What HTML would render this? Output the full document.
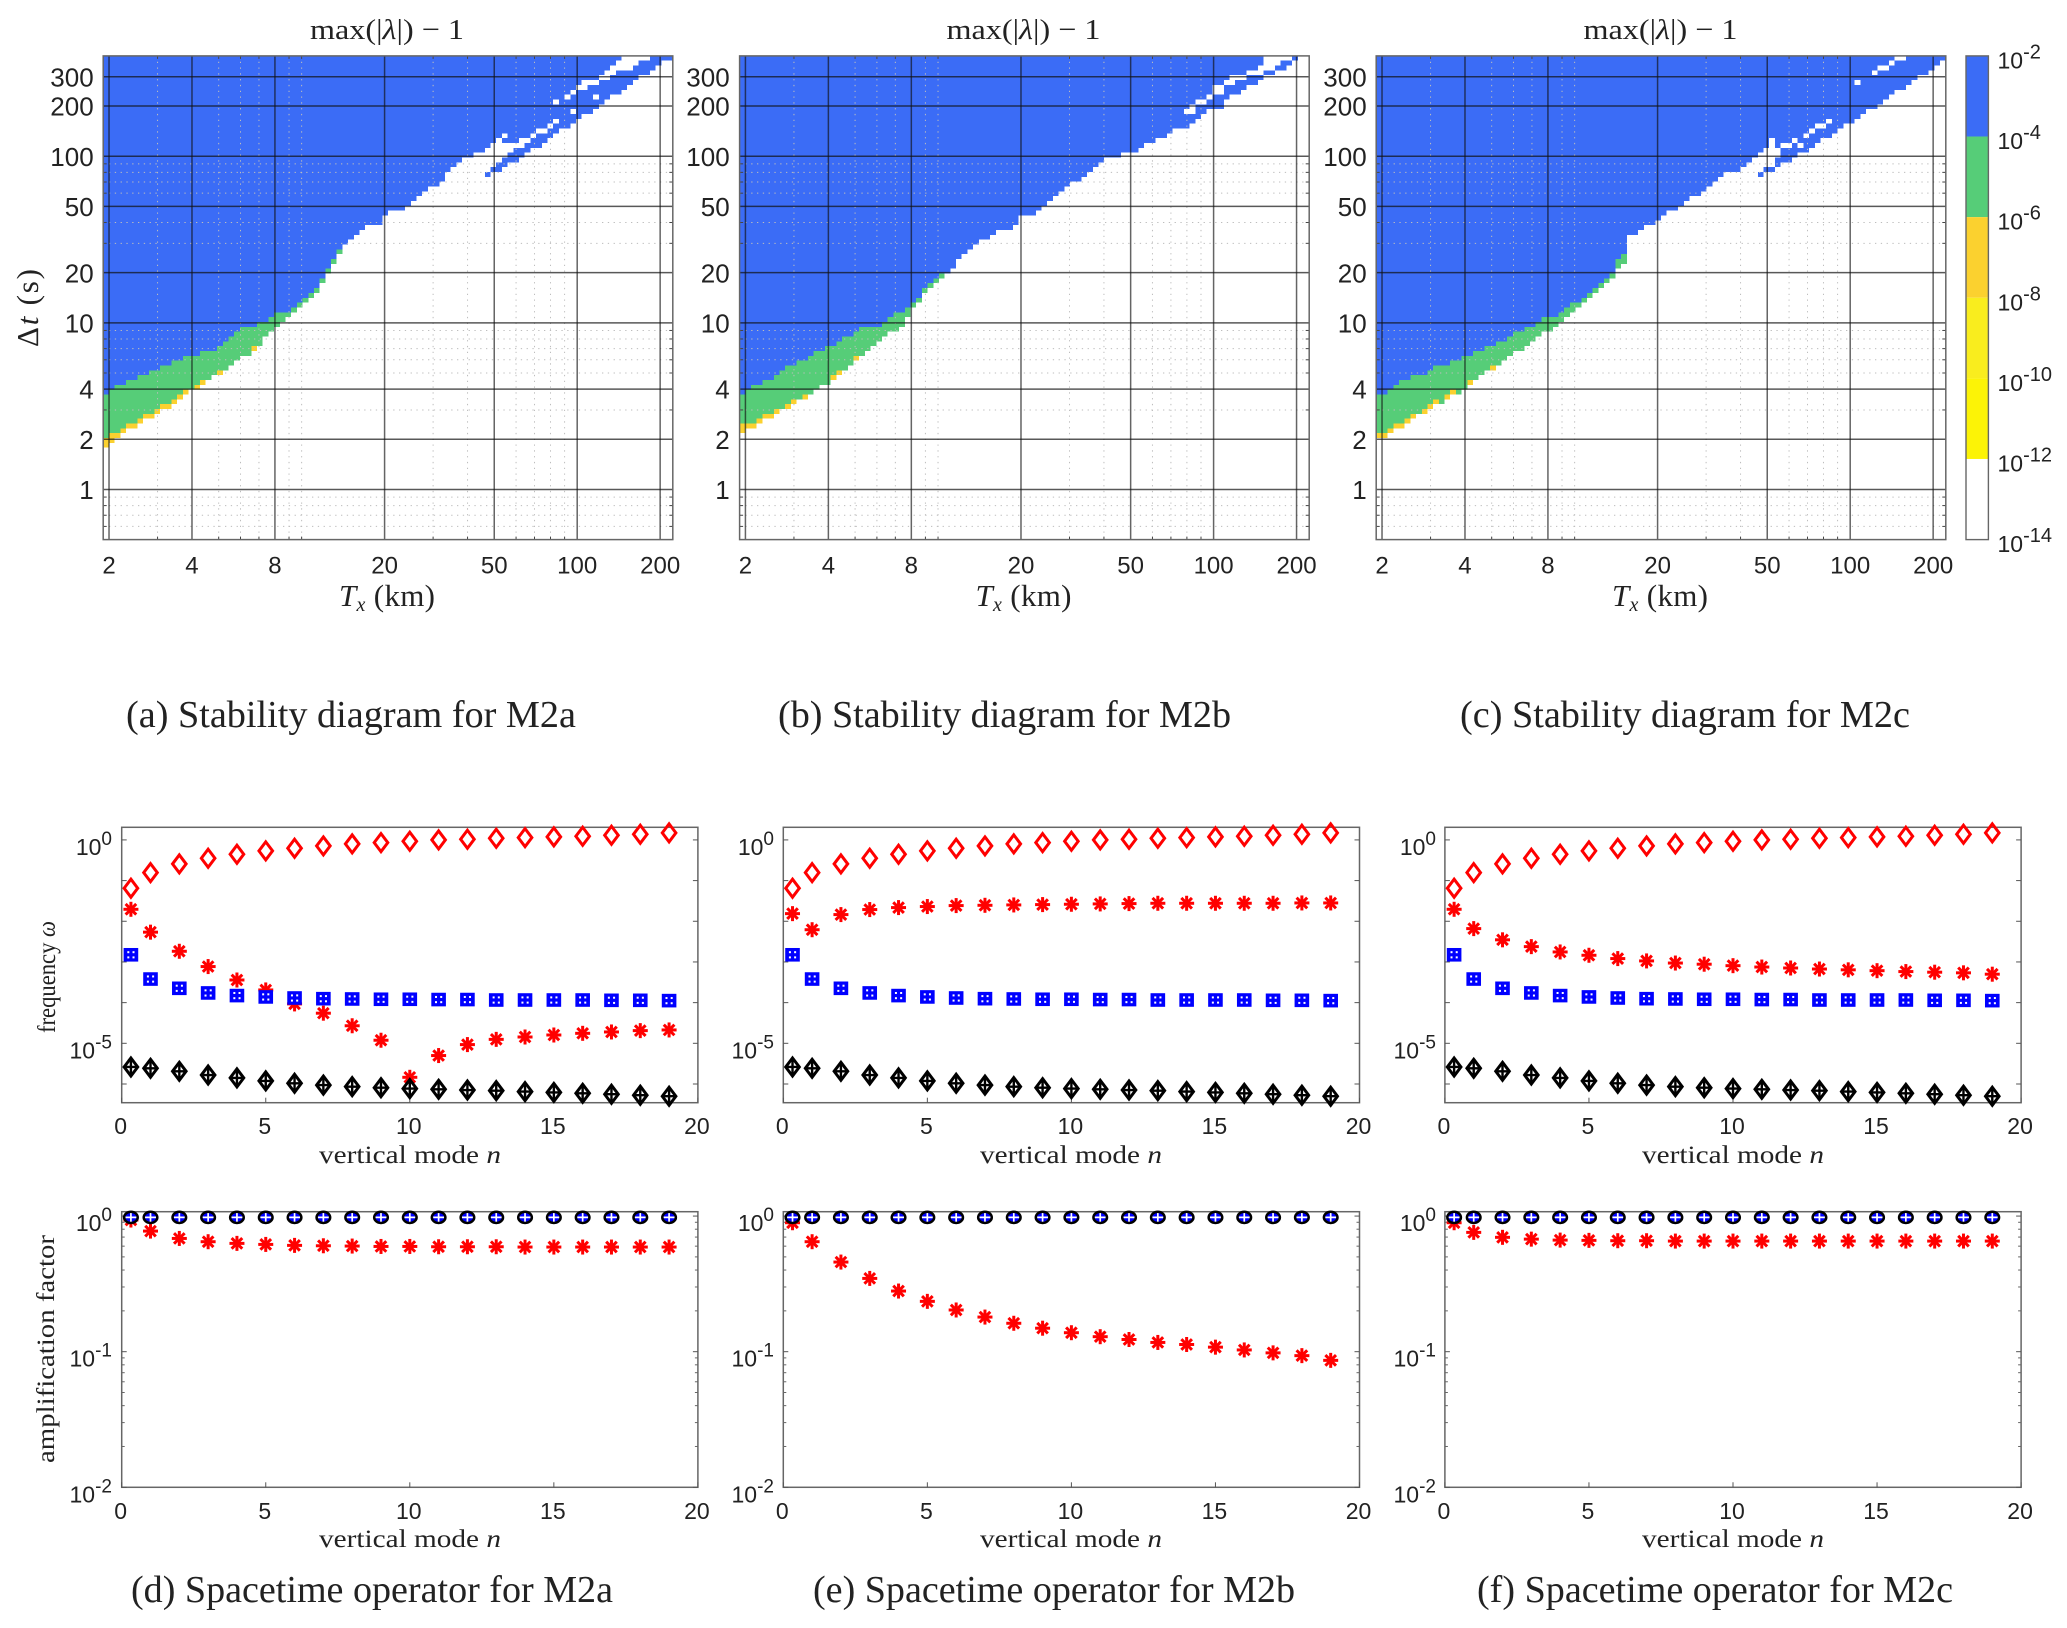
<!DOCTYPE html>
<html lang="en">
<head>
<meta charset="utf-8">
<title>Stability diagrams and spacetime operators</title>
<style>
html,body{margin:0;padding:0;background:#fff;width:2067px;height:1628px;overflow:hidden}
svg{display:block}
.sans{font-family:"Liberation Sans",sans-serif;fill:#222}
.serif{font-family:"Liberation Serif",serif;fill:#222}
</style>
</head>
<body>
<svg id="figure" xmlns="http://www.w3.org/2000/svg" width="2067" height="1628" viewBox="0 0 2067 1628">
  <rect x="0" y="0" width="2067" height="1628" fill="#fff"/>
  <g id="layer-stability"></g>
  <g id="layer-modes"></g>

  <text class="serif" x="387" y="39" font-size="29" text-anchor="middle" textLength="154" lengthAdjust="spacingAndGlyphs">max(|<tspan font-style="italic">λ</tspan>|) − 1</text>
  <text class="serif" x="1023.5" y="39" font-size="29" text-anchor="middle" textLength="154" lengthAdjust="spacingAndGlyphs">max(|<tspan font-style="italic">λ</tspan>|) − 1</text>
  <text class="serif" x="1660.5" y="39" font-size="29" text-anchor="middle" textLength="154" lengthAdjust="spacingAndGlyphs">max(|<tspan font-style="italic">λ</tspan>|) − 1</text>

  <text class="serif" x="387" y="606" font-size="31" text-anchor="middle" textLength="96" lengthAdjust="spacing"><tspan font-style="italic">T</tspan><tspan font-style="italic" font-size="20" dy="5">x</tspan><tspan dy="-5"> (km)</tspan></text>
  <text class="serif" x="1023.5" y="606" font-size="31" text-anchor="middle" textLength="96" lengthAdjust="spacing"><tspan font-style="italic">T</tspan><tspan font-style="italic" font-size="20" dy="5">x</tspan><tspan dy="-5"> (km)</tspan></text>
  <text class="serif" x="1660" y="606" font-size="31" text-anchor="middle" textLength="96" lengthAdjust="spacing"><tspan font-style="italic">T</tspan><tspan font-style="italic" font-size="20" dy="5">x</tspan><tspan dy="-5"> (km)</tspan></text>
  <text class="serif" transform="translate(38,308) rotate(-90)" font-size="31" text-anchor="middle" textLength="78" lengthAdjust="spacing">Δ<tspan font-style="italic">t</tspan> (s)</text>

  <text class="serif" x="126" y="727" font-size="38" textLength="450" lengthAdjust="spacingAndGlyphs">(a) Stability diagram for M2a</text>
  <text class="serif" x="778" y="727" font-size="38" textLength="453" lengthAdjust="spacingAndGlyphs">(b) Stability diagram for M2b</text>
  <text class="serif" x="1460" y="727" font-size="38" textLength="450" lengthAdjust="spacingAndGlyphs">(c) Stability diagram for M2c</text>
  <text class="serif" x="131" y="1602" font-size="38" textLength="482" lengthAdjust="spacingAndGlyphs">(d) Spacetime operator for M2a</text>
  <text class="serif" x="813" y="1602" font-size="38" textLength="482" lengthAdjust="spacingAndGlyphs">(e) Spacetime operator for M2b</text>
  <text class="serif" x="1477" y="1602" font-size="38" textLength="476" lengthAdjust="spacingAndGlyphs">(f) Spacetime operator for M2c</text>

  <text class="serif" transform="translate(55,977) rotate(-90)" font-size="25" text-anchor="middle" textLength="112" lengthAdjust="spacingAndGlyphs">frequency <tspan font-style="italic">ω</tspan></text>
  <text class="serif" transform="translate(54,1349) rotate(-90)" font-size="25" text-anchor="middle" textLength="228" lengthAdjust="spacingAndGlyphs">amplification factor</text>
</svg>

<script>
/* ---------- stability diagram data (grid row index, counted from top, per column) ---------- */
const xTicksTx = [2, 4, 8, 20, 50, 100, 200];
const xMinorTx = [3, 5, 6, 7, 9, 10, 30, 40, 60, 70, 80, 90];
const yTicksDt = [1, 2, 4, 10, 20, 50, 100, 200, 300];
const yMinorDt = [0.6, 0.7, 0.8, 0.9, 3, 5, 6, 7, 8, 9, 30, 40, 60, 70, 80, 90];

const blueEndA = [70,69,68,68,67,67,66,66,65,65,64,64,63,63,62,62,62,61,61,61,60,59,58,57,56,56,56,55,55,54,53,53,53,52,51,50,49,48,46,44,42,40];
const greenEndA = [79,78,78,77,76,76,75,74,74,73,72,72,71,70,69,69,68,67,67,66,65,65,64,63,62,62,60,60,58];
const colourEndA = [81,80,79,78,77,77,76,75,75,74,73,73,72,71,70,69,69,68,67,66,66,65,64,63,62,62,61,60,58,57,56,55,54,53,52,51,50,49,47,45,43,41,39,38,37,36,35,35,35,33,32,32,32,31,30,29,28,27,27,26,24,23,22,21,21,20,20,25,24,24,23,22,22,21,20,19,19,18,17,16,15,15,14,13,12,12,11,10,9,8,8,7,6,5,4,4,3,2,1,1];
const gapsA = [[67,19,24],[68,18,23],[69,17,22],[70,18,21],[70,16,17],[71,18,20],[72,18,19],[73,17,19],[74,17,18],[75,16,17],[76,15,16],[77,15,16],[78,14,15],[79,13,14],[79,9,10],[81,8,9],[82,7,8],[82,11,12],[83,6,7],[84,5,7],[85,5,6],[86,5,6],[86,8,9],[87,4,5],[88,3,5],[89,2,4],[90,1,3],[91,0,3],[92,0,3],[93,0,2],[94,0,1],[95,0,1]];

const blueEndB = [70,69,68,68,67,67,66,65,64,64,63,63,62,61,61,60,60,59,58,58,57,56,56,56,56,55,54,53,53,52,51,50,48,47,46,45];
const greenEndB = [76,76,76,75,74,74,73,73,72,71,71,70,70,69,68,68,66,65,65,64,62];
const colourEndB = [78,77,77,76,75,75,74,73,73,72,71,71,70,69,68,68,67,66,65,64,63,62,61,60,59,58,57,57,56,54,52,51,49,48,47,46,45,44,42,41,40,39,38,38,37,36,36,36,35,33,33,33,32,31,30,29,28,27,26,26,25,24,23,22,21,21,21,20,20,20,19,18,18,17,17,16,15,15,15,14,13,12,11,11,11,9,8,8,7,6,6,5,4,4,3,3,2,1,0,0];
const gapsB = [[78,11,12],[79,10,12],[80,9,10],[81,9,10],[82,8,9],[83,6,8],[84,6,8],[85,5,6],[86,4,6],[87,4,5],[88,4,5],[89,3,4],[90,3,4],[91,2,4],[92,0,3],[93,0,3],[94,0,2],[95,0,1],[96,0,1]];

const blueEndC = [70,70,69,68,67,67,66,66,66,65,64,64,64,63,63,62,62,61,61,60,60,59,59,58,57,57,56,56,55,54,54,54,53,52,51,51,50,49,48,47,46,45,42,41];
const greenEndC = [78,78,77,76,76,75,74,74,73,72,71,72,70,69,70,69,67,67,66,65,64];
const colourEndC = [79,79,78,77,77,76,75,74,74,73,72,72,71,70,70,69,68,67,66,65,65,64,63,62,61,61,60,59,58,57,57,56,55,54,53,52,51,50,49,48,47,46,44,43,37,37,36,35,35,34,33,32,32,31,30,29,29,28,27,26,25,24,24,24,23,22,21,25,24,24,23,22,22,21,20,20,19,18,17,17,16,15,14,14,13,12,11,11,10,9,8,7,7,6,5,4,4,3,2,1];
const gapsC = [[67,20,24],[68,19,23],[69,17,23],[70,19,21],[71,18,19],[72,18,19],[73,17,18],[74,18,19],[75,16,17],[76,15,16],[77,14,15],[78,14,15],[79,13,14],[84,5,6],[87,3,4],[88,2,3],[89,2,3],[90,1,2],[91,0,1],[92,0,1]];

const colourbarExponents = [-2, -4, -6, -8, -10, -12, -14];
const colourbarColours = ["#3b6cf6", "#56cd78", "#fbd12f", "#f9ed1e", "#fcf306", "#ffffff"];

/* ---------- mode plot data ---------- */
const modeValues = [0.32,1,2,3,4,5,6,7,8,9,10,11,12,13,14,15,16,17,18,19];
const modeTicks = [0, 5, 10, 15, 20];
const freqTickExponents = [0, -1, -2, -3, -4, -5, -6];
const freqLabelExponents = [0, -5];
const ampLabelExponents = [0, -1, -2];
const ampMinorTicks = [0.9,0.8,0.7,0.6,0.5,0.4,0.3,0.2,0.09,0.08,0.07,0.06,0.05,0.04,0.03,0.02];

const freqRedDiamond = [0.065,0.157,0.257,0.354,0.444,0.537,0.624,0.711,0.797,0.859,0.927,1.0,1.04,1.10,1.14,1.19,1.23,1.30,1.38,1.49];
const freqBlueSquare = [1.5e-3,3.8e-4,2.25e-4,1.73e-4,1.49e-4,1.38e-4,1.30e-4,1.25e-4,1.23e-4,1.21e-4,1.21e-4,1.19e-4,1.19e-4,1.16e-4,1.16e-4,1.16e-4,1.16e-4,1.14e-4,1.14e-4,1.12e-4];
const freqBlackDiamond = [2.62e-6,2.43e-6,2.05e-6,1.66e-6,1.41e-6,1.19e-6,1.04e-6,9.4e-7,8.6e-7,8.1e-7,7.7e-7,7.4e-7,7.1e-7,6.85e-7,6.5e-7,6.2e-7,5.9e-7,5.6e-7,5.3e-7,5.0e-7];
const freqStarA = [1.97e-2,5.4e-3,1.83e-3,7.7e-4,3.6e-4,2.05e-4,9.3e-5,5.5e-5,2.7e-5,1.19e-5,1.46e-6,5.0e-6,9.3e-6,1.25e-5,1.43e-5,1.6e-5,1.76e-5,1.9e-5,2.05e-5,2.13e-5];
const freqStarB = [1.54e-2,6.2e-3,1.46e-2,1.94e-2,2.17e-2,2.3e-2,2.43e-2,2.47e-2,2.52e-2,2.57e-2,2.62e-2,2.67e-2,2.72e-2,2.77e-2,2.77e-2,2.77e-2,2.77e-2,2.77e-2,2.82e-2,2.82e-2];
const freqStarC = [1.97e-2,6.6e-3,3.5e-3,2.38e-3,1.76e-3,1.46e-3,1.21e-3,1.06e-3,9.4e-4,8.8e-4,8.1e-4,7.5e-4,7.1e-4,6.7e-4,6.4e-4,6.1e-4,5.8e-4,5.6e-4,5.4e-4,5.0e-4];

const ampCircle = [0.978,0.978,0.978,0.978,0.978,0.978,0.978,0.978,0.978,0.978,0.978,0.978,0.978,0.978,0.978,0.978,0.978,0.978,0.978,0.978];
const ampStarD = [0.935,0.775,0.684,0.647,0.629,0.618,0.608,0.604,0.601,0.597,0.597,0.594,0.594,0.594,0.591,0.591,0.591,0.591,0.591,0.591];
const ampStarE = [0.893,0.647,0.458,0.347,0.280,0.235,0.203,0.180,0.162,0.149,0.138,0.129,0.123,0.117,0.113,0.108,0.103,0.098,0.0935,0.0863];
const ampStarF = [0.893,0.758,0.697,0.676,0.665,0.662,0.658,0.658,0.654,0.654,0.654,0.654,0.654,0.654,0.654,0.654,0.654,0.654,0.654,0.654];

/* ---------- helpers ---------- */
const NS = "http://www.w3.org/2000/svg";
function mk(parent, tag, attrs) {
  const el = document.createElementNS(NS, tag);
  for (const k in attrs) el.setAttribute(k, attrs[k]);
  parent.appendChild(el);
  return el;
}
function mkLabel(parent, str, x, y, size, anchor) {
  const t = mk(parent, "text", { x: x, y: y, "font-size": size, "text-anchor": anchor, "class": "sans" });
  t.textContent = str;
  
  
  return t;
}
function mkPowerLabel(parent, exponent, x, y, size, expSize, rise, anchor) {
  const t = mk(parent, "text", { x: x, y: y, "font-size": size, "text-anchor": anchor, "class": "sans" });
  
  
  t.appendChild(document.createTextNode("10"));
  const s = mk(t, "tspan", { "font-size": expSize, dy: -rise });
  s.textContent = String(exponent);
  return t;
}

/* ---------- stability panels ---------- */
const stabLayer = document.getElementById("layer-stability");
const stabTop = 55.9, stabHeight = 483.7, stabWidth = 569.6;
const TxMin = 1.905, TxMax = 222.3, DtMax = 400, DtMin = 0.5, gridCount = 100;

function drawStability(left, blueEnd, greenEnd, colourEnd, gaps, tickRight) {
  const g = mk(stabLayer, "g", {});
  
  
  const xScale = function (v) { return left + Math.log(v / TxMin) / Math.log(TxMax / TxMin) * stabWidth; };
  const yScale = function (v) { return stabTop + Math.log(DtMax / v) / Math.log(DtMax / DtMin) * stabHeight; };
  const colEdge = function (c) { return xScale(TxMin * Math.pow(TxMax / TxMin, c / gridCount)); };
  const rowEdge = function (r) { return yScale(DtMax * Math.pow(DtMin / DtMax, r / gridCount)); };
  const cellRun = function (c, r0, r1, fill) {
    return mk(g, "rect", { x: colEdge(c), y: rowEdge(r0), width: colEdge(c + 1) - colEdge(c), height: rowEdge(r1) - rowEdge(r0), fill: fill, "shape-rendering": "crispEdges" });
  };
  colourEnd.forEach(function (end, c) {
    const blue = c < blueEnd.length ? blueEnd[c] : end;
    const green = c < greenEnd.length ? greenEnd[c] : end;
    if (blue > 0) {
      const rBlue = cellRun(c, 0, blue, "#3b6cf6");
      
      
    }
    if (green > blue) {
      const rGreen = cellRun(c, blue, green, "#56cd78");
      
      
    }
    if (end > green) {
      const rOrange = cellRun(c, green, end, "#fbd12f");
      
      
    }
  });
  gaps.forEach(function (gap) {
    const rGap = cellRun(gap[0], gap[1], gap[2], "#ffffff");
    
    
  });
  const bottom = stabTop + stabHeight, right = left + stabWidth;
  xMinorTx.forEach(function (v) {
    const px = xScale(v);
    const l = mk(g, "line", { x1: px, x2: px, y1: stabTop, y2: bottom, stroke: "#bdbdbd", "stroke-width": 1, "stroke-dasharray": "1.3 4.5" });
    
    
    const t1 = mk(g, "line", { x1: px, x2: px, y1: stabTop, y2: stabTop + 3, stroke: "#444", "stroke-width": 1 });
    
    
    const t2 = mk(g, "line", { x1: px, x2: px, y1: bottom - 3, y2: bottom, stroke: "#444", "stroke-width": 1 });
    
    
  });
  yMinorDt.forEach(function (v) {
    const py = yScale(v);
    const l = mk(g, "line", { x1: left, x2: right, y1: py, y2: py, stroke: "#bdbdbd", "stroke-width": 1, "stroke-dasharray": "1.3 4.5" });
    
    
    const t1 = mk(g, "line", { x1: left, x2: left + 3.5, y1: py, y2: py, stroke: "#444", "stroke-width": 1 });
    
    
    const t2 = mk(g, "line", { x1: right - 3.5, x2: right, y1: py, y2: py, stroke: "#444", "stroke-width": 1 });
    
    
  });
  xTicksTx.forEach(function (v) {
    const px = xScale(v);
    const l = mk(g, "line", { x1: px, x2: px, y1: stabTop, y2: bottom, stroke: "#111", "stroke-opacity": 0.65, "stroke-width": 1.5 });
    
    
    mkLabel(g, String(v), px, 573.5, 24, "middle");
  });
  yTicksDt.forEach(function (v) {
    const py = yScale(v);
    const l = mk(g, "line", { x1: left, x2: right, y1: py, y2: py, stroke: "#111", "stroke-opacity": 0.7, "stroke-width": 1.5 });
    
    
    mkLabel(g, String(v), tickRight, py + 9.6, 26, "end");
  });
  const box = mk(g, "rect", { x: left, y: stabTop, width: stabWidth, height: stabHeight, fill: "none", stroke: "#666", "stroke-width": 1.5 });
  
  
}
drawStability(103.2, blueEndA, greenEndA, colourEndA, gapsA, 93.7);
drawStability(739.6, blueEndB, greenEndB, colourEndB, gapsB, 729.7);
drawStability(1376.2, blueEndC, greenEndC, colourEndC, gapsC, 1366.7);

/* ---------- colourbar ---------- */
(function () {
  const left = 1966, width = 22.4;
  const g = mk(stabLayer, "g", {});
  
  
  const hi = colourbarExponents[0], lo = colourbarExponents[colourbarExponents.length - 1];
  const yExp = function (e) { return stabTop + (hi - e) / (hi - lo) * stabHeight; };
  colourbarColours.forEach(function (col, i) {
    const r = mk(g, "rect", { x: left, y: yExp(colourbarExponents[i]), width: width, height: yExp(colourbarExponents[i + 1]) - yExp(colourbarExponents[i]), fill: col });
    
    
  });
  colourbarExponents.forEach(function (e) {
    mkPowerLabel(g, e, 1997.5, yExp(e) + 12.6, 23, 20, 10, "start");
  });
  const b = mk(g, "rect", { x: left, y: stabTop, width: width, height: stabHeight, fill: "none", stroke: "#666", "stroke-width": 1.4 });
  
  
})();

/* ---------- mode panels ---------- */
const modeLayer = document.getElementById("layer-modes");
const modeWidth = 576.2;

function drawStar(parent, x, y) {
  const m = mk(parent, "g", { transform: "translate(" + x + "," + y + ")", stroke: "#ff0000", "stroke-width": 3, "stroke-linecap": "butt" });
  
  
  mk(m, "line", { x1: 0, y1: -7.5, x2: 0, y2: 7.5 });
  mk(m, "line", { x1: -7.5, y1: 0, x2: 7.5, y2: 0 });
  mk(m, "line", { x1: -5.3, y1: -5.3, x2: 5.3, y2: 5.3 });
  mk(m, "line", { x1: -5.3, y1: 5.3, x2: 5.3, y2: -5.3 });
}
function drawRedDiamond(parent, x, y) {
  const m = mk(parent, "path", { d: "M" + x + " " + (y - 9) + "L" + (x + 6.8) + " " + y + "L" + x + " " + (y + 9) + "L" + (x - 6.8) + " " + y + "Z", fill: "none", stroke: "#ff0000", "stroke-width": 3 });
  
  
}
function drawBlueSquare(parent, x, y) {
  const m = mk(parent, "g", { transform: "translate(" + x + "," + y + ")" });
  
  
  mk(m, "rect", { x: -7.3, y: -6.8, width: 14.6, height: 13.6, fill: "#0000ff" });
  [[-2.6, -2.6], [2.6, -2.6], [-2.6, 2.6], [2.6, 2.6]].forEach(function (p) {
    mk(m, "rect", { x: p[0] - 1, y: p[1] - 1, width: 2, height: 2, fill: "#ffffff" });
  });
}
function drawBlackDiamond(parent, x, y) {
  const m = mk(parent, "g", { transform: "translate(" + x + "," + y + ")" });
  
  
  mk(m, "path", { d: "M0 -9L6.8 0L0 9L-6.8 0Z", fill: "#fff", stroke: "#000", "stroke-width": 3 });
  mk(m, "path", { d: "M0 -7V7M-5.5 0H5.5", stroke: "#000", "stroke-width": 2.4, fill: "none" });
}
function drawCirclePlus(parent, x, y) {
  const m = mk(parent, "g", { transform: "translate(" + x + "," + y + ")" });
  
  
  mk(m, "ellipse", { cx: 0, cy: 0, rx: 6.8, ry: 5.6, fill: "#0000ff" });
  mk(m, "path", { d: "M0 -5.5V5.5M-5.5 0H5.5", stroke: "#fff", "stroke-width": 1.7, fill: "none" });
  mk(m, "ellipse", { cx: 0, cy: 0, rx: 6.8, ry: 5.6, fill: "none", stroke: "#000", "stroke-width": 2.5 });
}

function drawFrame(left, top, bottom, yScale, majorTicks, minorTicks, labelExps, labelRight, xLabelY, titleX, titleY) {
  const g = mk(modeLayer, "g", {});
  
  
  const xScale = function (n) { return left + n / 20 * modeWidth; };
  const box = mk(g, "rect", { x: left, y: top, width: modeWidth, height: bottom - top, fill: "none", stroke: "#666", "stroke-width": 1.5 });
  
  
  modeTicks.forEach(function (n) {
    const px = xScale(n);
    const t = mk(g, "line", { x1: px, x2: px, y1: bottom - 5, y2: bottom, stroke: "#555", "stroke-width": 1 });
    
    
    mkLabel(g, String(n), px - 1, xLabelY, 23, "middle");
  });
  majorTicks.forEach(function (v) {
    const py = yScale(v);
    const t1 = mk(g, "line", { x1: left, x2: left + 5, y1: py, y2: py, stroke: "#555", "stroke-width": 1 });
    
    
    const t2 = mk(g, "line", { x1: left + modeWidth - 5, x2: left + modeWidth, y1: py, y2: py, stroke: "#555", "stroke-width": 1 });
    
    
  });
  minorTicks.forEach(function (v) {
    const py = yScale(v);
    const t1 = mk(g, "line", { x1: left, x2: left + 3, y1: py, y2: py, stroke: "#666", "stroke-width": 1 });
    
    
    const t2 = mk(g, "line", { x1: left + modeWidth - 3, x2: left + modeWidth, y1: py, y2: py, stroke: "#666", "stroke-width": 1 });
    
    
  });
  labelExps.forEach(function (e) {
    mkPowerLabel(g, e, labelRight, yScale(Math.pow(10, e)) + 15, 23, 19, 10, "end");
  });
  const tt = mk(g, "text", { x: titleX, y: titleY, "font-size": 25, "text-anchor": "middle", "class": "serif", textLength: 182, lengthAdjust: "spacingAndGlyphs" });
  
  
  tt.appendChild(document.createTextNode("vertical mode "));
  const it = mk(tt, "tspan", { "font-style": "italic" });
  it.textContent = "n";
  return { group: g, x: xScale };
}

function logScale(top, bottom, hi, lo) {
  return function (v) { return top + Math.log(hi / v) / Math.log(hi / lo) * (bottom - top); };
}

function drawFrequencyPanel(left, labelRight, titleX, stars) {
  const top = 827.3, bottom = 1102.7;
  const yScale = logScale(top, bottom, Math.pow(10, 0.31), Math.pow(10, -6.46));
  const majors = freqTickExponents.map(function (e) { return Math.pow(10, e); });
  const f = drawFrame(left, top, bottom, yScale, majors, [], freqLabelExponents, labelRight, 1134, titleX, 1163);
  stars.forEach(function (v, i) { drawStar(f.group, f.x(modeValues[i]), yScale(v)); });
  freqBlueSquare.forEach(function (v, i) { drawBlueSquare(f.group, f.x(modeValues[i]), yScale(v)); });
  freqBlackDiamond.forEach(function (v, i) { drawBlackDiamond(f.group, f.x(modeValues[i]), yScale(v)); });
  freqRedDiamond.forEach(function (v, i) { drawRedDiamond(f.group, f.x(modeValues[i]), yScale(v)); });
}
function drawAmplificationPanel(left, labelRight, titleX, stars) {
  const top = 1211.7, bottom = 1487.3;
  const yScale = logScale(top, bottom, 1.077, 0.01);
  const f = drawFrame(left, top, bottom, yScale, [1, 0.1, 0.01], ampMinorTicks, ampLabelExponents, labelRight, 1519, titleX, 1547);
  stars.forEach(function (v, i) { drawStar(f.group, f.x(modeValues[i]), yScale(v)); });
  ampCircle.forEach(function (v, i) { drawCirclePlus(f.group, f.x(modeValues[i]), yScale(v)); });
}

drawFrequencyPanel(121.7, 112, 410, freqStarA);
drawFrequencyPanel(783.3, 774, 1071, freqStarB);
drawFrequencyPanel(1444.9, 1436, 1733, freqStarC);
drawAmplificationPanel(121.7, 112, 410, ampStarD);
drawAmplificationPanel(783.3, 774, 1071, ampStarE);
drawAmplificationPanel(1444.9, 1436, 1733, ampStarF);
</script>
</body>
</html>
